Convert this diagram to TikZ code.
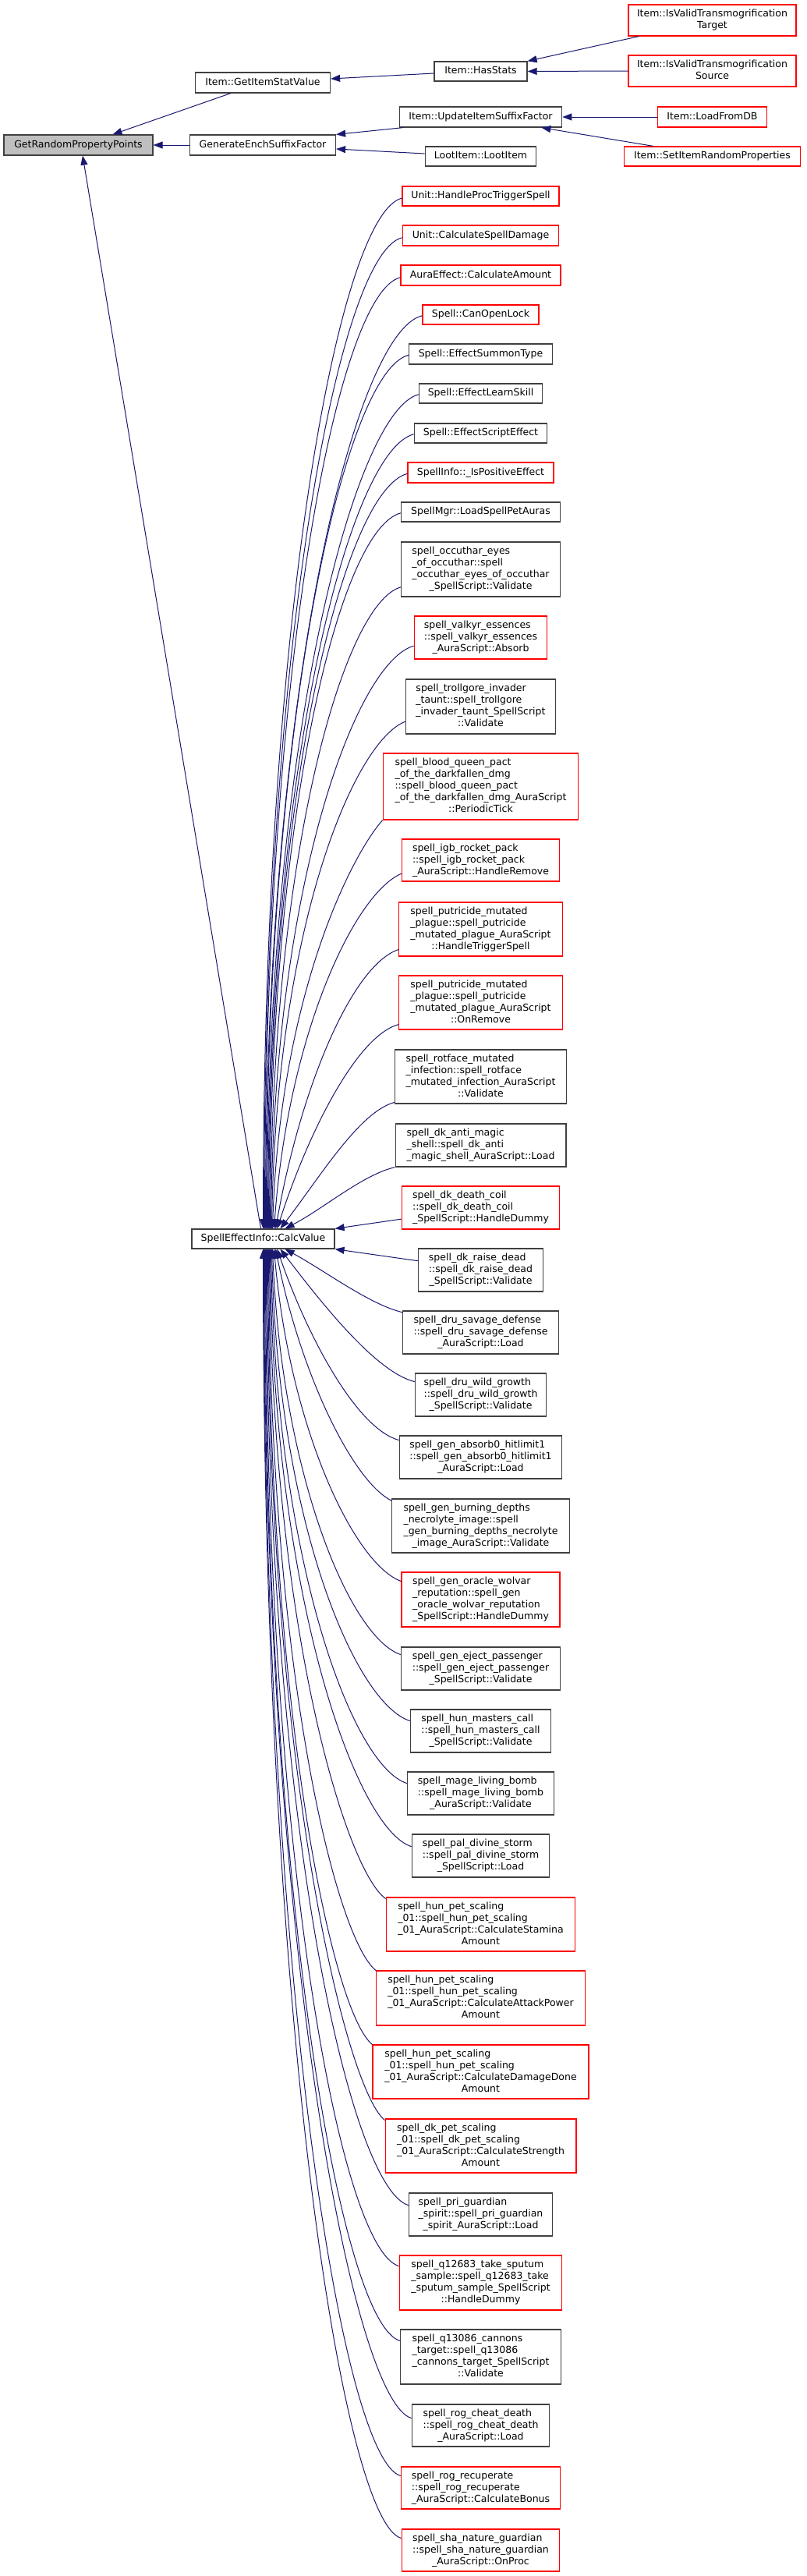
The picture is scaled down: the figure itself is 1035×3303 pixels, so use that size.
\documentclass[tikz,border=0pt]{standalone}
\usepackage{fontspec}
\setmainfont{DejaVu Sans}
\usetikzlibrary{arrows.meta,calc}
\definecolor{grayfill}{HTML}{BFBFBF}
\definecolor{midblue}{HTML}{191970}
\definecolor{boxline}{HTML}{404040}
\definecolor{boxred}{HTML}{FF0000}
\newcommand\nfont{\fontsize{12.5}{15}\selectfont}
\newcommand\ml[1]{\begin{tabular}{@{}l@{}}#1\end{tabular}}
\newcommand\lc[1]{\multicolumn{1}{@{}c@{}}{#1}}
\tikzset{
  box/.style={draw=boxline, line width=1.2pt, fill=white, inner sep=0pt, font=\nfont, text=black},
  redbox/.style={box, draw=boxred},
  edge/.style={draw=midblue, line width=1pt, -{Triangle[length=12pt,width=9pt]}},
}
\newcommand\upe[7]{\draw[edge] ($(#1.north west)!#2!(#1.south west)$) .. controls +(#4,#5) and +(#6,#7) .. ($(cv.north)+(#3,0)$);}
\newcommand\loe[7]{\draw[edge] ($(#1.north west)!#2!(#1.south west)$) .. controls +(#4,#5) and +(#6,#7) .. ($(cv.south)+(#3,0)$);}
\begin{document}
\begin{tikzpicture}[x=1pt,y=1pt]
\useasboundingbox (0,0) rectangle (1035,-3303);
% column 1 and 2
\node[box,fill=grayfill,minimum width=191pt,minimum height=26pt] (grpp) at (100.5,-186) {\ml{GetRandomPropertyPoints}};
\node[box,minimum width=173pt,minimum height=26pt] (gisv) at (337,-106) {\ml{Item::GetItemStatValue}};
\node[box,minimum width=187pt,minimum height=26pt] (gesf) at (337,-186) {\ml{GenerateEnchSuffixFactor}};
\node[box,minimum width=183pt,minimum height=25pt] (cv) at (337.5,-1588.5) {\ml{SpellEffectInfo::CalcValue}};
% column 3 top
\node[box,minimum width=119pt,minimum height=25pt] (hasstats) at (616.5,-91.5) {\ml{Item::HasStats}};
\node[box,minimum width=208.5pt,minimum height=26pt] (uisf) at (616.5,-150) {\ml{Item::UpdateItemSuffixFactor}};
\node[box,minimum width=142.5pt,minimum height=25pt] (loot) at (616.5,-200.5) {\ml{LootItem::LootItem}};
% column 4
\node[redbox,minimum width=215pt,minimum height=40pt] (tgt) at (913.5,-26) {\ml{Item::IsValidTransmogrification\\\lc{Target}}};
\node[redbox,minimum width=215pt,minimum height=40pt] (src) at (913.5,-91) {\ml{Item::IsValidTransmogrification\\\lc{Source}}};
\node[redbox,minimum width=140.5pt,minimum height=26pt] (load) at (913.5,-150) {\ml{Item::LoadFromDB}};
\node[redbox,minimum width=226pt,minimum height=25pt] (setirp) at (913.5,-200.5) {\ml{Item::SetItemRandomProperties}};
% column 3 spells (upper)
\node[redbox,minimum width=201pt,minimum height=25pt] (hps) at (616.5,-251.5) {\ml{Unit::HandleProcTriggerSpell}};
\node[redbox,minimum width=200.5pt,minimum height=26pt] (ucsd) at (616.5,-302) {\ml{Unit::CalculateSpellDamage}};
\node[redbox,minimum width=205pt,minimum height=26pt] (aeca) at (616.5,-353) {\ml{AuraEffect::CalculateAmount}};
\node[redbox,minimum width=149pt,minimum height=25pt] (col) at (616.5,-403.5) {\ml{Spell::CanOpenLock}};
\node[box,minimum width=184pt,minimum height=26pt] (est) at (616.5,-454) {\ml{Spell::EffectSummonType}};
\node[box,minimum width=158pt,minimum height=25pt] (els) at (616.5,-504.5) {\ml{Spell::EffectLearnSkill}};
\node[box,minimum width=170.6pt,minimum height=25pt] (ese) at (616.5,-555.5) {\ml{Spell::EffectScriptEffect}};
\node[redbox,minimum width=187pt,minimum height=26pt] (ipe) at (616.5,-606) {\ml{SpellInfo::\_IsPositiveEffect}};
\node[box,minimum width=204pt,minimum height=25pt] (lspa) at (616.5,-656.5) {\ml{SpellMgr::LoadSpellPetAuras}};
\node[box,minimum width=203.5pt,minimum height=70pt] (occ) at (616.5,-730) {\ml{spell\_occuthar\_eyes\\\_of\_occuthar::spell\\\_occuthar\_eyes\_of\_occuthar\\\lc{\_SpellScript::Validate}}};
\node[redbox,minimum width=170.6pt,minimum height=55pt] (valk) at (616.5,-817.5) {\ml{spell\_valkyr\_essences\\::spell\_valkyr\_essences\\\lc{\_AuraScript::Absorb}}};
\node[box,minimum width=192.4pt,minimum height=70pt] (troll) at (616.5,-906) {\ml{spell\_trollgore\_invader\\\_taunt::spell\_trollgore\\\_invader\_taunt\_SpellScript\\\lc{::Validate}}};
\node[redbox,minimum width=250.5pt,minimum height=85pt] (bq) at (616.5,-1008.5) {\ml{spell\_blood\_queen\_pact\\\_of\_the\_darkfallen\_dmg\\::spell\_blood\_queen\_pact\\\_of\_the\_darkfallen\_dmg\_AuraScript\\\lc{::PeriodicTick}}};
\node[redbox,minimum width=201.8pt,minimum height=54pt] (igb) at (616.5,-1103) {\ml{spell\_igb\_rocket\_pack\\::spell\_igb\_rocket\_pack\\\lc{\_AuraScript::HandleRemove}}};
\node[redbox,minimum width=209.4pt,minimum height=69pt] (puth) at (616.5,-1191.5) {\ml{spell\_putricide\_mutated\\\_plague::spell\_putricide\\\_mutated\_plague\_AuraScript\\\lc{::HandleTriggerSpell}}};
\node[redbox,minimum width=209.4pt,minimum height=69pt] (puor) at (616.5,-1285.5) {\ml{spell\_putricide\_mutated\\\_plague::spell\_putricide\\\_mutated\_plague\_AuraScript\\\lc{::OnRemove}}};
\node[box,minimum width=220.2pt,minimum height=69pt] (rot) at (616.5,-1380.5) {\ml{spell\_rotface\_mutated\\\_infection::spell\_rotface\\\_mutated\_infection\_AuraScript\\\lc{::Validate}}};
\node[box,minimum width=218.8pt,minimum height=55pt] (anti) at (616.5,-1468.5) {\ml{spell\_dk\_anti\_magic\\\_shell::spell\_dk\_anti\\\lc{\_magic\_shell\_AuraScript::Load}}};
\node[redbox,minimum width=202.7pt,minimum height=55pt] (dcoil) at (616.5,-1548.5) {\ml{spell\_dk\_death\_coil\\::spell\_dk\_death\_coil\\\lc{\_SpellScript::HandleDummy}}};
% column 3 spells (lower)
\node[box,minimum width=160.2pt,minimum height=55pt] (raise) at (616.5,-1628.5) {\ml{spell\_dk\_raise\_dead\\::spell\_dk\_raise\_dead\\\lc{\_SpellScript::Validate}}};
\node[box,minimum width=199.9pt,minimum height=55pt] (savage) at (616.5,-1708.5) {\ml{spell\_dru\_savage\_defense\\::spell\_dru\_savage\_defense\\\lc{\_AuraScript::Load}}};
\node[box,minimum width=167.8pt,minimum height=55pt] (wild) at (616.5,-1788.5) {\ml{spell\_dru\_wild\_growth\\::spell\_dru\_wild\_growth\\\lc{\_SpellScript::Validate}}};
\node[box,minimum width=208.5pt,minimum height=55pt] (absorb) at (616.5,-1868.5) {\ml{spell\_gen\_absorb0\_hitlimit1\\::spell\_gen\_absorb0\_hitlimit1\\\lc{\_AuraScript::Load}}};
\node[box,minimum width=227.4pt,minimum height=69pt] (burn) at (616.5,-1956.5) {\ml{spell\_gen\_burning\_depths\\\_necrolyte\_image::spell\\\_gen\_burning\_depths\_necrolyte\\\lc{\_image\_AuraScript::Validate}}};
\node[redbox,minimum width=203pt,minimum height=70pt] (oracle) at (616.5,-2051) {\ml{spell\_gen\_oracle\_wolvar\\\_reputation::spell\_gen\\\_oracle\_wolvar\_reputation\\\lc{\_SpellScript::HandleDummy}}};
\node[box,minimum width=204.2pt,minimum height=55pt] (eject) at (616.5,-2139.5) {\ml{spell\_gen\_eject\_passenger\\::spell\_gen\_eject\_passenger\\\lc{\_SpellScript::Validate}}};
\node[box,minimum width=180pt,minimum height=55pt] (hunmc) at (616.5,-2219.5) {\ml{spell\_hun\_masters\_call\\::spell\_hun\_masters\_call\\\lc{\_SpellScript::Validate}}};
\node[box,minimum width=188.1pt,minimum height=55pt] (mage) at (616.5,-2299.5) {\ml{spell\_mage\_living\_bomb\\::spell\_mage\_living\_bomb\\\lc{\_AuraScript::Validate}}};
\node[box,minimum width=176.4pt,minimum height=55pt] (pal) at (616.5,-2379.5) {\ml{spell\_pal\_divine\_storm\\::spell\_pal\_divine\_storm\\\lc{\_SpellScript::Load}}};
\node[redbox,minimum width=242.5pt,minimum height=69pt] (stam) at (616.5,-2467.5) {\ml{spell\_hun\_pet\_scaling\\\_01::spell\_hun\_pet\_scaling\\\_01\_AuraScript::CalculateStamina\\\lc{Amount}}};
\node[redbox,minimum width=268pt,minimum height=70pt] (ap) at (616.5,-2562) {\ml{spell\_hun\_pet\_scaling\\\_01::spell\_hun\_pet\_scaling\\\_01\_AuraScript::CalculateAttackPower\\\lc{Amount}}};
\node[redbox,minimum width=277pt,minimum height=69pt] (dd) at (616.5,-2656.5) {\ml{spell\_hun\_pet\_scaling\\\_01::spell\_hun\_pet\_scaling\\\_01\_AuraScript::CalculateDamageDone\\\lc{Amount}}};
\node[redbox,minimum width=244.8pt,minimum height=69pt] (str) at (616.5,-2751.5) {\ml{spell\_dk\_pet\_scaling\\\_01::spell\_dk\_pet\_scaling\\\_01\_AuraScript::CalculateStrength\\\lc{Amount}}};
\node[box,minimum width=183.8pt,minimum height=55pt] (pri) at (616.5,-2839.5) {\ml{spell\_pri\_guardian\\\_spirit::spell\_pri\_guardian\\\lc{\_spirit\_AuraScript::Load}}};
\node[redbox,minimum width=208.5pt,minimum height=70pt] (qa) at (616.5,-2927) {\ml{spell\_q12683\_take\_sputum\\\_sample::spell\_q12683\_take\\\_sputum\_sample\_SpellScript\\\lc{::HandleDummy}}};
\node[box,minimum width=206pt,minimum height=70pt] (qb) at (616.5,-3022) {\ml{spell\_q13086\_cannons\\\_target::spell\_q13086\\\_cannons\_target\_SpellScript\\\lc{::Validate}}};
\node[box,minimum width=176.4pt,minimum height=54pt] (cheat) at (616.5,-3110) {\ml{spell\_rog\_cheat\_death\\::spell\_rog\_cheat\_death\\\lc{\_AuraScript::Load}}};
\node[redbox,minimum width=204.2pt,minimum height=54pt] (recup) at (616.5,-3190) {\ml{spell\_rog\_recuperate\\::spell\_rog\_recuperate\\\lc{\_AuraScript::CalculateBonus}}};
\node[redbox,minimum width=202.7pt,minimum height=54pt] (sha) at (616.5,-3270) {\ml{spell\_sha\_nature\_guardian\\::spell\_sha\_nature\_guardian\\\lc{\_AuraScript::OnProc}}};
% top edges
\draw[edge] ($(gisv.south west)+(46,0)$) -- ($(grpp.north)+(44,0)$);
\draw[edge] (gesf.west) -- (grpp.east);
\draw[edge] ($(cv.north)+(-3,0)$) -- ($(grpp.south)+(5.5,0)$);
\draw[edge] ($(hasstats.west)+(0,-2.5)$) -- ($(gisv.east)+(0,5)$);
\draw[edge] ($(tgt.south west)+(14,0)$) -- (hasstats.north east);
\draw[edge] (src.west) -- (hasstats.east);
\draw[edge] ($(uisf.south west)+(5.5,0)$) -- (gesf.north east);
\draw[edge] ($(loot.west)+(0,3.5)$) -- ($(gesf.east)+(0,-5)$);
\draw[edge] (load.west) -- (uisf.east);
\draw[edge] ($(setirp.north west)+(38,0)$) -- ($(uisf.south east)+(-27,0)$);
% upper spell edges
\upe{hps}{0.6}{0}{-80}{-20}{0}{790}
\upe{ucsd}{0.6}{1}{-80}{-20}{0}{760}
\upe{aeca}{0.6}{2}{-80}{-20}{0}{730}
\upe{col}{0.55}{3}{-85}{-20}{0}{700}
\upe{est}{0.55}{4}{-80}{-20}{0}{670}
\upe{els}{0.55}{5}{-80}{-20}{0}{640}
\upe{ese}{0.55}{6}{-80}{-20}{1}{610}
\upe{ipe}{0.55}{7}{-78}{-20}{1}{580}
\upe{lspa}{0.55}{8}{-76}{-20}{2}{550}
\upe{occ}{0.82}{9}{-72}{-20}{3}{490}
\upe{valk}{0.69}{10}{-72}{-20}{4}{450}
\upe{troll}{0.77}{11}{-65}{-25}{6}{390}
\upe{bq}{1}{12}{-40}{-45}{10}{300}
\upe{igb}{0.81}{14}{-60}{-25}{18}{250}
\upe{puth}{0.87}{16}{-60}{-20}{32}{180}
\upe{puor}{0.9}{18}{-55}{-15}{38}{118}
\upe{rot}{0.97}{22}{-45}{-12}{50}{65}
\upe{anti}{1}{28}{-42}{-10}{50}{26}
\draw[edge] ($(dcoil.north west)!0.76!(dcoil.south west)$) -- (cv.north east);
% lower spell edges
\draw[edge] ($(raise.north west)!0.29!(raise.south west)$) -- (cv.south east);
\loe{savage}{0.04}{28}{-42}{10}{50}{-27}
\loe{wild}{0.2}{22}{-50}{12}{52}{-68}
\loe{absorb}{0.11}{18}{-55}{15}{38}{-110}
\loe{burn}{0.04}{16}{-50}{25}{32}{-160}
\loe{oracle}{0.17}{14}{-60}{22}{20}{-230}
\loe{eject}{0.18}{12}{-65}{22}{12}{-290}
\loe{hunmc}{0.27}{11}{-70}{22}{8}{-350}
\loe{mage}{0.27}{10}{-70}{22}{6}{-400}
\loe{pal}{0.29}{9}{-70}{22}{4}{-450}
\loe{stam}{0.03}{8}{-50}{35}{3}{-490}
\loe{ap}{0}{7}{-50}{40}{2}{-550}
\loe{dd}{0}{6}{-50}{40}{2}{-610}
\loe{str}{0.03}{5}{-50}{40}{1}{-670}
\loe{pri}{0.29}{4}{-75}{22}{0}{-735}
\loe{qa}{0.2}{3}{-75}{22}{0}{-780}
\loe{qb}{0.21}{2}{-75}{22}{0}{-840}
\loe{cheat}{0.33}{1}{-75}{22}{0}{-900}
\loe{recup}{0.22}{0.5}{-75}{22}{0}{-940}
\loe{sha}{0.22}{0}{-75}{22}{0}{-990}
\end{tikzpicture}
\end{document}
